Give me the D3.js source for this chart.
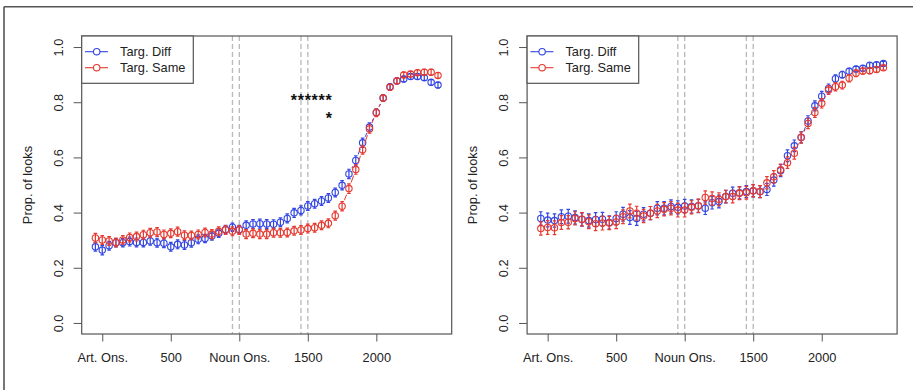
<!DOCTYPE html>
<html>
<head>
<meta charset="utf-8">
<script src="https://cdn.jsdelivr.net/npm/d3@7"></script>
<style>
  html, body { margin: 0; padding: 0; background: #fff; }
  svg { display: block; }
  text { font-family: "Liberation Sans", Arial, sans-serif; }
</style>
</head>
<body>
<div id="chart"></div>
<script>
// ---------------- DATA ----------------
const timeBins = [-50, 0, 50, 100, 150, 200, 250, 300, 350, 400, 450, 500, 550, 600, 650, 700, 750, 800, 850, 900,
  950, 1000, 1050, 1100, 1150, 1200, 1250, 1300, 1350, 1400, 1450, 1500, 1550, 1600, 1650, 1700, 1750, 1800, 1850, 1900,
  1950, 2000, 2050, 2100, 2150, 2200, 2250, 2300, 2350, 2400, 2450];

const xTickValues = [0, 500, 1000, 1500, 2000];
const xTickLabels = ["Art. Ons.", "500", "Noun Ons.", "1500", "2000"];
const yTickValues = [0, 0.2, 0.4, 0.6, 0.8, 1.0];
const yTickLabels = ["0.0", "0.2", "0.4", "0.6", "0.8", "1.0"];
const markerLines = [950, 1000, 1450, 1500];
const seriesNames = ["Targ. Diff", "Targ. Same"];
const yAxisTitle = "Prop. of looks";

// Left panel
const leftDiff = [0.276, 0.264, 0.280, 0.291, 0.291, 0.295, 0.292, 0.292, 0.297, 0.291, 0.289, 0.276, 0.285, 0.283, 0.291, 0.303, 0.306, 0.315, 0.325, 0.339,
  0.347, 0.339, 0.354, 0.359, 0.360, 0.359, 0.358, 0.365, 0.379, 0.399, 0.408, 0.424, 0.432, 0.442, 0.453, 0.473, 0.499, 0.540, 0.589, 0.653,
  0.710, 0.763, 0.815, 0.856, 0.877, 0.884, 0.893, 0.893, 0.889, 0.872, 0.862];
const leftDiffErr = [0.016, 0.017, 0.016, 0.015, 0.015, 0.016, 0.016, 0.016, 0.015, 0.016, 0.016, 0.016, 0.016, 0.016, 0.016, 0.016, 0.015, 0.015, 0.015, 0.015,
  0.015, 0.015, 0.016, 0.016, 0.016, 0.016, 0.016, 0.016, 0.016, 0.016, 0.016, 0.016, 0.016, 0.016, 0.016, 0.016, 0.017, 0.017, 0.017, 0.017,
  0.015, 0.013, 0.012, 0.011, 0.010, 0.010, 0.010, 0.010, 0.010, 0.010, 0.010];
const leftSame = [0.308, 0.301, 0.297, 0.292, 0.301, 0.310, 0.313, 0.320, 0.327, 0.330, 0.321, 0.325, 0.331, 0.318, 0.317, 0.321, 0.328, 0.322, 0.332, 0.337,
  0.332, 0.337, 0.322, 0.325, 0.322, 0.322, 0.327, 0.327, 0.328, 0.334, 0.337, 0.342, 0.345, 0.354, 0.361, 0.389, 0.423, 0.487, 0.556, 0.628,
  0.703, 0.762, 0.815, 0.854, 0.877, 0.899, 0.902, 0.907, 0.909, 0.909, 0.897];
const leftSameErr = [0.017, 0.016, 0.016, 0.016, 0.016, 0.016, 0.016, 0.016, 0.016, 0.016, 0.016, 0.016, 0.016, 0.016, 0.016, 0.016, 0.016, 0.016, 0.016, 0.016,
  0.016, 0.016, 0.016, 0.016, 0.016, 0.016, 0.016, 0.016, 0.016, 0.016, 0.016, 0.016, 0.016, 0.016, 0.016, 0.016, 0.017, 0.017, 0.017, 0.016,
  0.015, 0.014, 0.012, 0.011, 0.010, 0.010, 0.010, 0.010, 0.010, 0.010, 0.010];

// Right panel
const rightDiff = [0.379, 0.373, 0.371, 0.385, 0.387, 0.382, 0.375, 0.371, 0.375, 0.376, 0.364, 0.379, 0.394, 0.382, 0.379, 0.394, 0.398, 0.416, 0.416, 0.422,
  0.419, 0.424, 0.422, 0.424, 0.416, 0.436, 0.440, 0.458, 0.470, 0.472, 0.476, 0.479, 0.476, 0.484, 0.518, 0.552, 0.606, 0.642, 0.673, 0.732,
  0.787, 0.822, 0.850, 0.885, 0.900, 0.912, 0.920, 0.923, 0.934, 0.936, 0.940];
const rightDiffErr = [0.024, 0.025, 0.024, 0.025, 0.025, 0.024, 0.024, 0.024, 0.025, 0.025, 0.024, 0.024, 0.025, 0.025, 0.025, 0.024, 0.024, 0.024, 0.024, 0.024,
  0.024, 0.024, 0.024, 0.024, 0.023, 0.023, 0.023, 0.023, 0.022, 0.022, 0.022, 0.022, 0.022, 0.022, 0.022, 0.022, 0.021, 0.021, 0.020, 0.019,
  0.018, 0.017, 0.016, 0.014, 0.012, 0.011, 0.010, 0.010, 0.009, 0.009, 0.008];
const rightSame = [0.342, 0.346, 0.345, 0.364, 0.365, 0.379, 0.376, 0.367, 0.360, 0.362, 0.362, 0.366, 0.385, 0.406, 0.398, 0.388, 0.398, 0.406, 0.412, 0.416,
  0.409, 0.409, 0.419, 0.425, 0.455, 0.451, 0.448, 0.458, 0.458, 0.470, 0.472, 0.479, 0.476, 0.508, 0.530, 0.555, 0.581, 0.615, 0.672, 0.723,
  0.763, 0.796, 0.844, 0.856, 0.862, 0.887, 0.905, 0.913, 0.914, 0.919, 0.925];
const rightSameErr = [0.024, 0.025, 0.025, 0.025, 0.024, 0.024, 0.024, 0.025, 0.025, 0.025, 0.024, 0.024, 0.025, 0.025, 0.025, 0.024, 0.024, 0.024, 0.024, 0.024,
  0.025, 0.025, 0.024, 0.024, 0.024, 0.024, 0.024, 0.023, 0.023, 0.023, 0.023, 0.022, 0.022, 0.022, 0.022, 0.021, 0.021, 0.021, 0.020, 0.019,
  0.018, 0.017, 0.016, 0.015, 0.014, 0.013, 0.012, 0.011, 0.010, 0.010, 0.009];

// significance stars (left panel only)
const starRow1 = { from: 1400, to: 1650, label: "******", value: 0.82 };
const starRow2 = { at: 1650, label: "*", value: 0.755 };

// ---------------- DRAW ----------------
const W = 913, H = 390;
const BLUE = "#3346e2", RED = "#e6392f", AXIS = "#555", TXT = "#222";
const FS = 12.8;

const svg = d3.select("#chart").append("svg").attr("width", W).attr("height", H);

// outer frame (partial lines)
svg.append("line").attr("x1", 4).attr("x2", W).attr("y1", 6.7).attr("y2", 6.7)
  .attr("stroke", AXIS).attr("stroke-width", 1.6);
svg.append("line").attr("x1", 4).attr("x2", 4).attr("y1", 6.7).attr("y2", H)
  .attr("stroke", AXIS).attr("stroke-width", 1.6);

function panel(offsetX, diff, diffErr, same, sameErr, withStars) {
  const box = { x0: 81.7 + offsetX, x1: 451.7 + offsetX, y0: 36, y1: 334 };
  const x = d3.scaleLinear().domain([-150, 2550]).range([box.x0, box.x1]);
  const y = d3.scaleLinear().domain([-0.04, 1.04]).range([box.y1, box.y0]);
  const g = svg.append("g");

  // dashed marker lines
  g.selectAll("line.marker").data(markerLines).join("line")
    .attr("x1", d => x(d)).attr("x2", d => x(d))
    .attr("y1", box.y0).attr("y2", box.y1)
    .attr("stroke", "#b8b8b8").attr("stroke-width", 1.3).attr("stroke-dasharray", "5,3");

  // x axis
  const xAxis = d3.axisBottom(x).tickValues(xTickValues)
    .tickFormat((d, i) => xTickLabels[i]).tickSize(7.5).tickPadding(10);
  const gx = g.append("g").attr("transform", `translate(0,${box.y1})`).call(xAxis);
  gx.select(".domain").remove();
  gx.selectAll(".tick line").attr("stroke", AXIS).attr("stroke-width", 1);
  gx.selectAll(".tick text").attr("fill", TXT).attr("font-size", FS)
    .attr("font-family", "Liberation Sans, Arial, sans-serif").attr("y", 19).attr("dy", "0.71em");

  // y axis
  const yAxis = d3.axisLeft(y).tickValues(yTickValues)
    .tickFormat((d, i) => yTickLabels[i]).tickSize(8).tickPadding(0);
  const gy = g.append("g").attr("transform", `translate(${box.x0},0)`).call(yAxis);
  gy.select(".domain").remove();
  gy.selectAll(".tick line").attr("stroke", AXIS).attr("stroke-width", 1);
  gy.selectAll(".tick text").attr("fill", TXT).attr("font-size", FS)
    .attr("font-family", "Liberation Sans, Arial, sans-serif")
    .attr("x", null).attr("dy", null)
    .attr("text-anchor", "middle")
    .attr("transform", `translate(${-(box.x0 - (offsetX + 62.6))},0) rotate(-90)`);

  // y title
  g.append("text").attr("transform", `translate(${offsetX + 31.6},${(box.y0 + box.y1) / 2}) rotate(-90)`)
    .attr("text-anchor", "middle").attr("font-size", FS).attr("fill", TXT).text(yAxisTitle);

  // series
  const series = [
    { vals: diff, err: diffErr, color: BLUE },
    { vals: same, err: sameErr, color: RED }
  ];
  const R = 3.2, GAP = 6.5, CAP = 1.8;
  series.forEach(s => {
    const pts = timeBins.map((t, i) => ({ t, v: s.vals[i], e: s.err[i], px: x(t), py: y(s.vals[i]) }));
    // type "b" line segments with gaps around points
    const segs = [];
    for (let i = 0; i < pts.length - 1; i++) {
      const a = pts[i], b = pts[i + 1];
      const dx = b.px - a.px, dy = b.py - a.py, L = Math.hypot(dx, dy);
      if (L > 2 * GAP) {
        const f = GAP / L;
        segs.push([a.px + f * dx, a.py + f * dy, b.px - f * dx, b.py - f * dy]);
      }
    }
    g.selectAll(null).data(segs).join("line")
      .attr("x1", d => d[0]).attr("y1", d => d[1]).attr("x2", d => d[2]).attr("y2", d => d[3])
      .attr("stroke", s.color).attr("stroke-width", 1);
    // error bars
    const eb = g.append("g").attr("stroke", s.color).attr("stroke-width", 1.2).attr("fill", "none");
    eb.selectAll(null).data(pts).join("path")
      .attr("d", d => {
        const yt = y(d.v + d.e), yb = y(d.v - d.e);
        return `M${d.px},${yt}V${yb}M${d.px - CAP},${yt}H${d.px + CAP}M${d.px - CAP},${yb}H${d.px + CAP}`;
      });
    // circles
    g.selectAll(null).data(pts).join("circle")
      .attr("cx", d => d.px).attr("cy", d => d.py).attr("r", R)
      .attr("fill", "none").attr("stroke", s.color).attr("stroke-width", 1.1);
  });

  // plot box
  g.append("rect").attr("x", box.x0).attr("y", box.y0)
    .attr("width", box.x1 - box.x0).attr("height", box.y1 - box.y0)
    .attr("fill", "none").attr("stroke", AXIS).attr("stroke-width", 1.2);

  // legend
  const lg = g.append("g");
  const lgW = 111.6, lgH = 47.3;
  lg.append("rect").attr("x", box.x0).attr("y", box.y0).attr("width", lgW).attr("height", lgH)
    .attr("fill", "#fff").attr("stroke", AXIS).attr("stroke-width", 1.2);
  const rows = [{ name: seriesNames[0], color: BLUE, cy: 51.7 }, { name: seriesNames[1], color: RED, cy: 67.7 }];
  rows.forEach(r => {
    lg.append("line").attr("x1", box.x0 + 3.3).attr("x2", box.x0 + 26.3).attr("y1", r.cy).attr("y2", r.cy)
      .attr("stroke", r.color).attr("stroke-width", 1.1);
    lg.append("circle").attr("cx", box.x0 + 15).attr("cy", r.cy).attr("r", R)
      .attr("fill", "#fff").attr("stroke", r.color).attr("stroke-width", 1.1);
    lg.append("text").attr("x", box.x0 + 38.3).attr("y", r.cy + 4.6)
      .attr("font-size", FS).attr("fill", TXT).text(r.name);
  });

  // significance stars
  if (withStars) {
    const n = starRow1.label.length;
    const step = (x(starRow1.to) - x(starRow1.from)) / (n - 1);
    g.append("text")
      .attr("x", (x(starRow1.from) + x(starRow1.to)) / 2).attr("y", y(starRow1.value) + 9.5)
      .attr("text-anchor", "middle").attr("font-size", 16).attr("font-weight", "bold")
      .attr("textLength", step * n).attr("lengthAdjust", "spacing")
      .attr("fill", "#111").text(starRow1.label);
    g.append("text")
      .attr("x", x(starRow2.at) + 0.5).attr("y", y(starRow2.value) + 9.5)
      .attr("text-anchor", "middle").attr("font-size", 16).attr("font-weight", "bold")
      .attr("fill", "#111").text(starRow2.label);
  }
}

panel(0, leftDiff, leftDiffErr, leftSame, leftSameErr, true);
panel(445.4, rightDiff, rightDiffErr, rightSame, rightSameErr, false);
</script>
</body>
</html>
